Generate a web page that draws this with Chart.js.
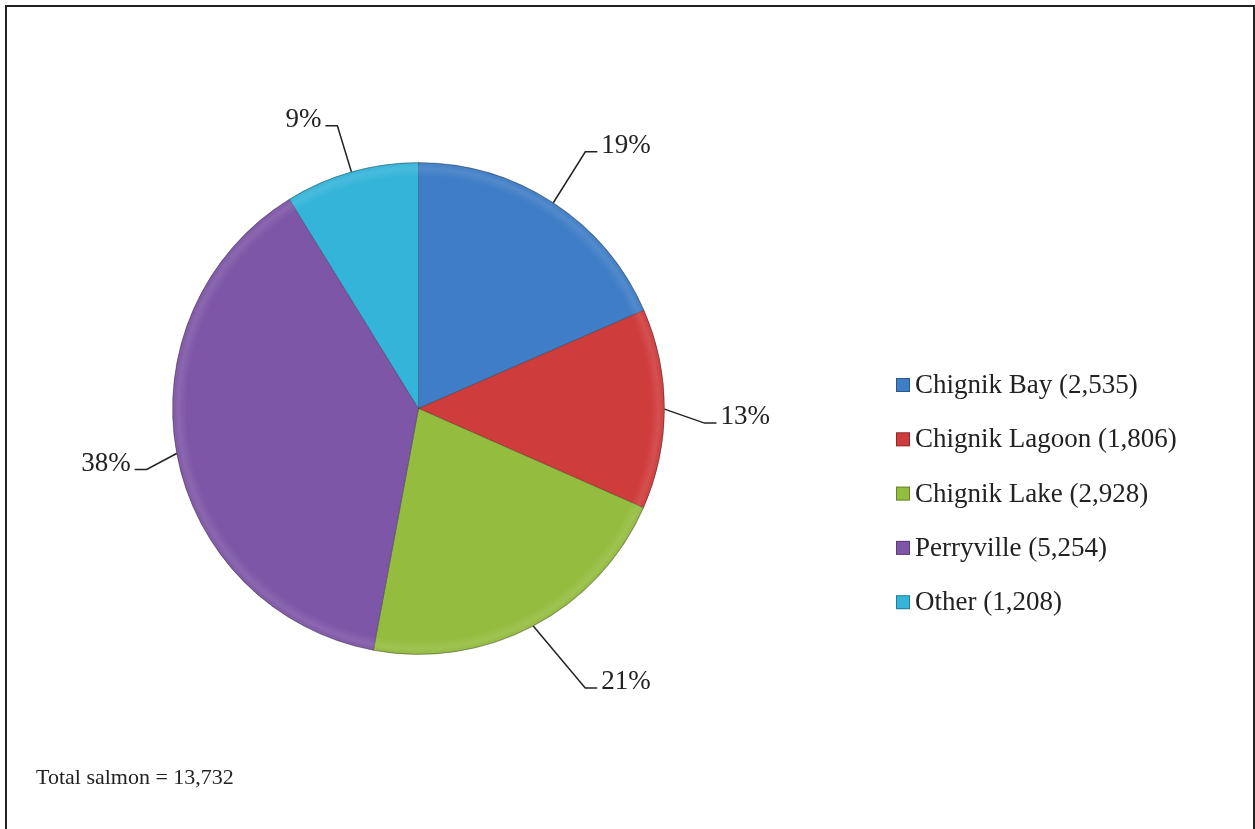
<!DOCTYPE html>
<html>
<head>
<meta charset="utf-8">
<script src="https://cdn.jsdelivr.net/npm/chart.js@4"></script>
<style>
  html, body { margin: 0; padding: 0; background: #fff; }
  #wrap { position: relative; width: 1255px; height: 829px; overflow: hidden; }
  #frame { position: absolute; left: 5px; top: 5px; width: 1250px; height: 1000px;
           border: 2px solid #222; box-sizing: border-box; pointer-events: none; }
  canvas { position: absolute; left: 0; top: 0; }
</style>
</head>
<body>
<div id="wrap">
  <canvas id="salmonChart" width="1255" height="829"></canvas>
  <div id="frame"></div>
</div>
<script>
// data
const communities = ["Chignik Bay", "Chignik Lagoon", "Chignik Lake", "Perryville", "Other"];
const salmonCounts = [2535, 1806, 2928, 5254, 1208];
const pctLabels = ["19%", "13%", "21%", "38%", "9%"];
const totalText = "Total salmon = 13,732";

const sliceColors = ["#3f7dc6", "#cf3c3c", "#94bc3e", "#7e56a7", "#34b4d9"];
const serif = "'Liberation Serif', 'Times New Roman', serif";

// soft bevel on the pie rim, like the excel look
const rimShade = {
    id: 'rimShade',
    afterDatasetsDraw(chart) {
        const ctx = chart.ctx;
        const arc = chart.getDatasetMeta(0).data[0];
        if (!arc) return;
        const r = arc.outerRadius;
        ctx.save();
        ctx.beginPath();
        ctx.arc(arc.x, arc.y, r, 0, Math.PI * 2);
        ctx.clip();
        const g = ctx.createRadialGradient(arc.x, arc.y, r - 14, arc.x, arc.y, r);
        g.addColorStop(0, "rgba(255,255,255,0)");
        g.addColorStop(0.6, "rgba(255,255,255,0.10)");
        g.addColorStop(0.85, "rgba(255,255,255,0.04)");
        g.addColorStop(1, "rgba(0,0,0,0.22)");
        ctx.fillStyle = g;
        ctx.fillRect(arc.x - r, arc.y - r, r * 2, r * 2);
        ctx.restore();
    }
};

// leader lines + percent labels (elbow offset from slice edge, in px)
const leaderLabels = {
    id: 'leaderLabels',
    afterDatasetsDraw(chart, args, opts) {
        const ctx = chart.ctx;
        const arcs = chart.getDatasetMeta(0).data;
        ctx.save();
        ctx.strokeStyle = "#222";
        ctx.lineWidth = 1.5;
        ctx.fillStyle = "#222";
        ctx.font = "27px " + serif;
        ctx.textBaseline = "alphabetic";
        arcs.forEach((arc, i) => {
            const mid = (arc.startAngle + arc.endAngle) / 2;
            const ex = arc.x + Math.cos(mid) * arc.outerRadius;
            const ey = arc.y + Math.sin(mid) * arc.outerRadius;
            const off = opts.offsets[i];
            const bx = ex + off[0], by = ey + off[1];
            const dir = off[0] >= 0 ? 1 : -1;
            const hx = bx + dir * 12;
            ctx.beginPath();
            ctx.moveTo(ex, ey);
            ctx.lineTo(bx, by);
            ctx.lineTo(hx, by);
            ctx.stroke();
            ctx.textAlign = dir > 0 ? "left" : "right";
            ctx.fillText(pctLabels[i], hx + dir * 4, by + 1);
        });
        ctx.restore();
    }
};

// legend on the right and the total note
const sideText = {
    id: 'sideText',
    afterDraw(chart) {
        const ctx = chart.ctx;
        ctx.save();
        ctx.font = "27px " + serif;
        ctx.textAlign = "left";
        ctx.textBaseline = "alphabetic";
        communities.forEach((name, i) => {
            const base = 393 + i * 54.3;
            ctx.fillStyle = sliceColors[i];
            ctx.fillRect(896, base - 15, 14, 14);
            ctx.strokeStyle = "rgba(0,0,0,0.3)";
            ctx.lineWidth = 1;
            ctx.strokeRect(896.5, base - 14.5, 13, 13);
            ctx.fillStyle = "#222";
            ctx.fillText(name + " (" + salmonCounts[i].toLocaleString("en-US") + ")", 915, base);
        });
        ctx.font = "22px " + serif;
        ctx.fillText(totalText, 36, 784);
        ctx.restore();
    }
};

new Chart(document.getElementById("salmonChart").getContext("2d"), {
    type: "pie",
    data: {
        labels: communities,
        datasets: [{
            data: salmonCounts,
            backgroundColor: sliceColors,
            borderColor: "rgba(0,0,0,0.25)",
            borderWidth: 1
        }]
    },
    options: {
        responsive: false,
        animation: false,
        devicePixelRatio: 1,
        layout: { padding: { left: 172, top: 162, right: 590, bottom: 174 } },
        plugins: {
            legend: { display: false },
            tooltip: { enabled: false },
            leaderLabels: {
                offsets: [[32, -51], [40, 14], [52, 62], [-30, 16], [-14, -46]]
            }
        }
    },
    plugins: [rimShade, leaderLabels, sideText]
});
</script>
</body>
</html>
